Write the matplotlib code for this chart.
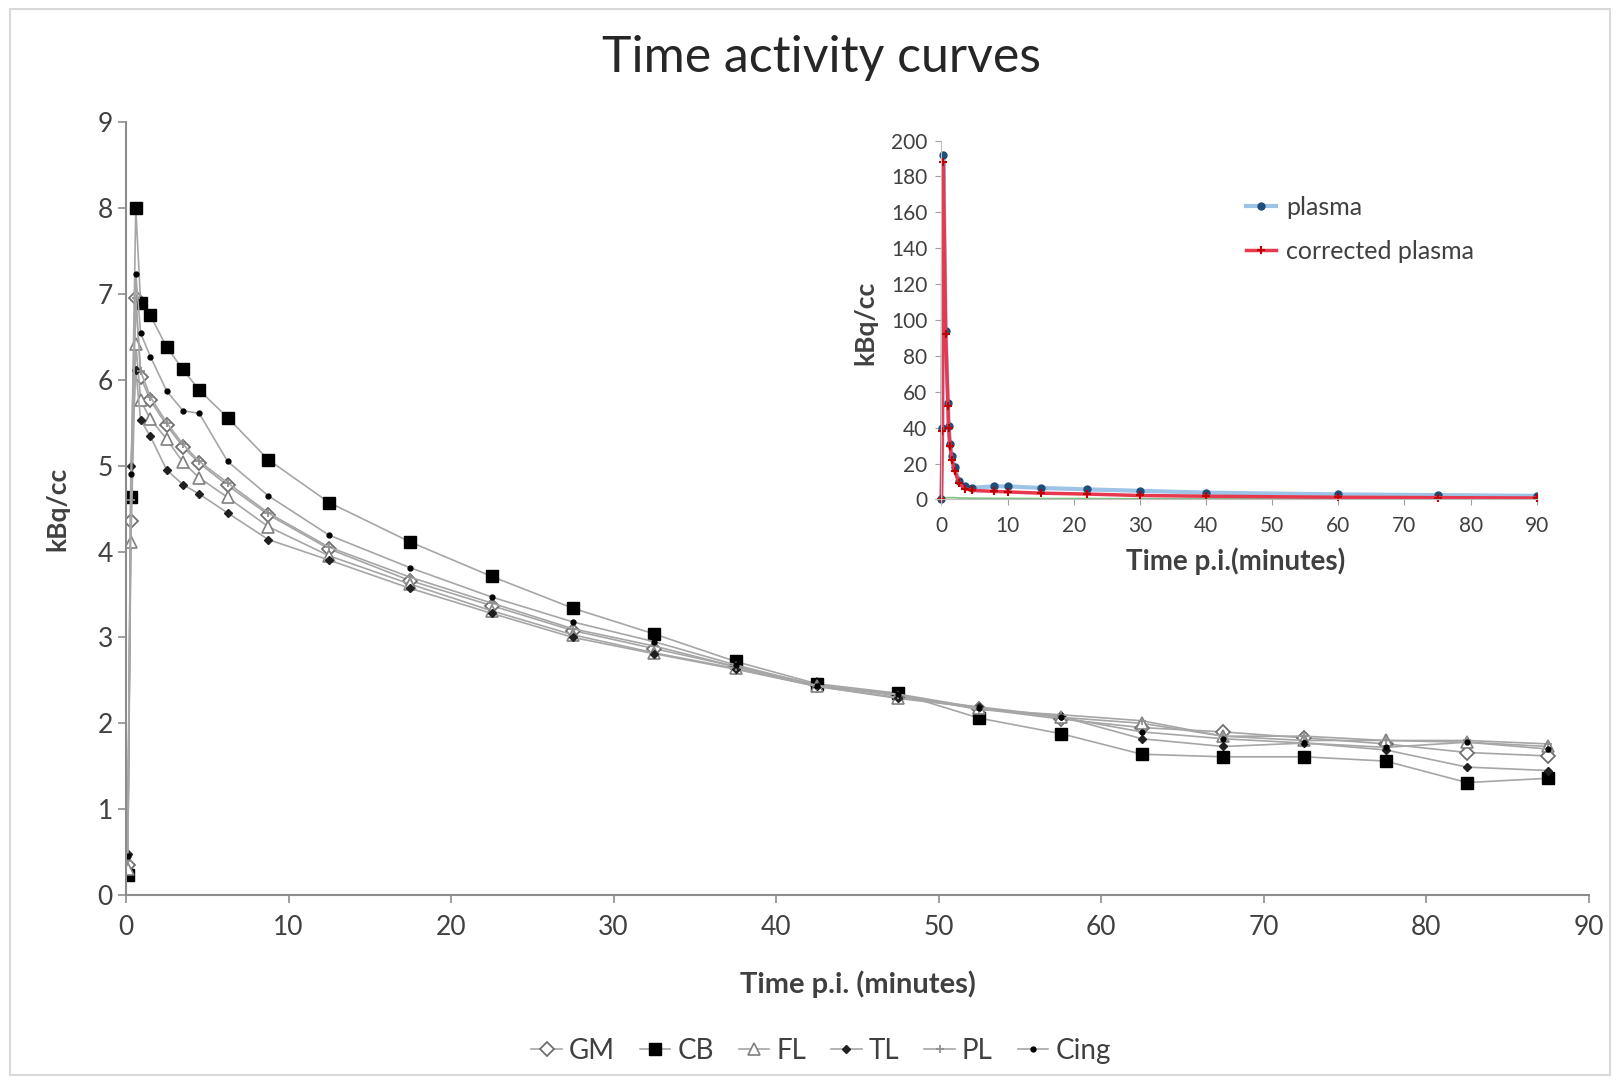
import matplotlib
matplotlib.use("Agg")
import matplotlib.pyplot as plt
from matplotlib.patches import Rectangle
import numpy as np

plt.rcParams['font.family'] = ['Lato', 'DejaVu Sans']

# mid-frame times (minutes)
times = [0.1, 0.3, 0.6, 0.9, 1.5, 2.5, 3.5, 4.5, 6.25, 8.75, 12.5, 17.5, 22.5, 27.5,
         32.5, 37.5, 42.5, 47.5, 52.5, 57.5, 62.5, 67.5, 72.5, 77.5, 82.5, 87.5]

GM = [0.35, 4.36, 6.95, 6.03, 5.76, 5.47, 5.22, 5.03, 4.77, 4.43, 4.03, 3.66, 3.37, 3.08,
      2.87, 2.66, 2.45, 2.32, 2.17, 2.05, 1.95, 1.90, 1.83, 1.76, 1.66, 1.62]
CB = [0.23, 4.63, 8.00, 6.89, 6.75, 6.38, 6.12, 5.88, 5.56, 5.07, 4.57, 4.11, 3.71, 3.34,
      3.04, 2.72, 2.46, 2.35, 2.06, 1.88, 1.64, 1.61, 1.61, 1.56, 1.31, 1.36]
FL = [0.30, 4.11, 6.42, 5.76, 5.54, 5.31, 5.04, 4.86, 4.63, 4.29, 3.95, 3.62, 3.31, 3.03,
      2.82, 2.64, 2.43, 2.29, 2.18, 2.07, 2.00, 1.85, 1.80, 1.80, 1.78, 1.73]
TL = [0.48, 5.00, 6.11, 5.53, 5.34, 4.95, 4.78, 4.67, 4.45, 4.14, 3.90, 3.57, 3.28, 3.00,
      2.81, 2.63, 2.43, 2.30, 2.19, 2.08, 1.82, 1.73, 1.77, 1.69, 1.49, 1.45]
PL = [0.40, 4.60, 6.95, 6.10, 5.80, 5.50, 5.25, 5.05, 4.80, 4.45, 4.05, 3.70, 3.40, 3.10,
      2.90, 2.66, 2.44, 2.33, 2.16, 2.10, 2.03, 1.85, 1.85, 1.80, 1.80, 1.76]
Cing = [0.45, 4.90, 7.23, 6.54, 6.27, 5.87, 5.64, 5.61, 5.05, 4.65, 4.19, 3.81, 3.47, 3.18,
        2.95, 2.68, 2.44, 2.34, 2.18, 2.07, 1.90, 1.82, 1.77, 1.72, 1.78, 1.70]

# inset: plasma input function
plasma_t = [0, 0.15, 0.3, 0.65, 1.0, 1.1, 1.3, 1.6, 2.0, 2.7, 3.5, 4.7, 8, 10, 15, 22, 30, 40, 60, 75, 90]
plasma = [0, 40, 192, 94, 54, 41, 31, 24, 18, 10, 7.5, 6.5, 7.3, 7.3, 6.4, 5.6, 4.8, 3.8, 2.8, 2.4, 2.0]
corrected = [0, 38, 188, 92, 52, 40, 30, 22, 16, 9, 6, 5, 4.5, 4.2, 3.5, 3.0, 2.2, 1.8, 1.2, 1.0, 0.8]
metab = [0, 0.5, 1, 1, 1, 1, 1, 1, 1, 0.8, 0.8, 0.7, 0.6, 0.6, 0.5, 0.5, 0.4, 0.4, 0.3, 0.3, 0.3]

fig = plt.figure(figsize=(16.2, 10.81), dpi=100)
fig.patches.append(Rectangle((0.006, 0.006), 0.988, 0.986, transform=fig.transFigure,
                             fill=False, edgecolor='#d9d9d9', lw=1.5))

ax = fig.add_axes([0.0778, 0.172, 0.903, 0.715])
lc = '#a6a6a6'
ax.plot(times, GM, color=lc, lw=1.2, marker='D', ms=7, mfc='white', mec='#707070', mew=1.3, label='GM')
ax.plot(times, CB, color=lc, lw=1.2, marker='s', ms=8, mfc='black', mec='black', label='CB')
ax.plot(times, FL, color=lc, lw=1.2, marker='^', ms=8, mfc='white', mec='#808080', mew=1.2, label='FL')
ax.plot(times, TL, color=lc, lw=1.2, marker='D', ms=4.5, mfc='#202020', mec='#202020', label='TL')
ax.plot(times, PL, color=lc, lw=1.2, marker='+', ms=6, mec='#909090', mew=1.3, label='PL')
ax.plot(times, Cing, color=lc, lw=1.2, marker='o', ms=3.5, mfc='black', mec='black', label='Cing')

ax.set_xlim(0, 90)
ax.set_ylim(0, 9)
ax.set_xticks(range(0, 91, 10))
ax.set_yticks(range(0, 10))
for s in ['top', 'right']:
    ax.spines[s].set_visible(False)
for s in ['left', 'bottom']:
    ax.spines[s].set_color('#8c8c8c')
    ax.spines[s].set_linewidth(1.5)
ax.tick_params(colors='#8c8c8c', labelcolor='#404040', labelsize=19, length=6, width=1.2)
ax.tick_params(axis='x', pad=8)
ax.set_xlabel('Time p.i. (minutes)', fontsize=21, fontweight='bold', color='#404040', labelpad=22)
ax.set_ylabel('kBq/cc', fontsize=19, fontweight='bold', color='#404040', labelpad=20)
fig.text(0.507, 0.946, 'Time activity curves', ha='center', va='center', fontsize=36, color='#262626')

leg = ax.legend(loc='upper center', bbox_to_anchor=(0.475, -0.152), ncol=6, frameon=False,
                fontsize=20, handlelength=1.1, columnspacing=0.9, handletextpad=0.25,
                labelcolor='#404040')

# inset
axi = fig.add_axes([0.577, 0.533, 0.3716, 0.337])
axi.plot(plasma_t, metab, color='#7fbf7f', lw=1.2)
axi.plot(plasma_t, plasma, color='#9dc3e6', lw=3, marker='o', ms=5, mfc='#1f4e79', mec='#1f4e79', label='plasma')
axi.plot(plasma_t, corrected, color='#e8384f', lw=2.5, marker='+', ms=6, mec='#c00000', mew=1.5, label='corrected plasma')
axi.set_xlim(-1, 90)
axi.set_ylim(-3, 200)
axi.set_xticks(range(0, 91, 10))
axi.set_yticks(range(0, 201, 20))
for s in ['top', 'right']:
    axi.spines[s].set_visible(False)
axi.spines['left'].set_color('#bfbfbf')
axi.spines['bottom'].set_color('#bfbfbf')
axi.spines['left'].set_position(('data', 0))
axi.spines['bottom'].set_position(('data', 0))
axi.tick_params(colors='#a0a0a0', labelcolor='#404040', labelsize=15, length=4)
axi.tick_params(axis='x', pad=8)
axi.tick_params(axis='y', pad=6)
axi.set_xlabel('Time p.i.(minutes)', fontsize=20, fontweight='bold', color='#404040', labelpad=8)
axi.set_ylabel('kBq/cc', fontsize=19, fontweight='bold', color='#404040', labelpad=10)
axi.legend(loc='upper left', bbox_to_anchor=(0.48, 0.91), frameon=False, fontsize=18,
           handlelength=1.2, handletextpad=0.4, labelspacing=0.85, labelcolor='#404040')

fig.savefig('out.png', dpi=100)
